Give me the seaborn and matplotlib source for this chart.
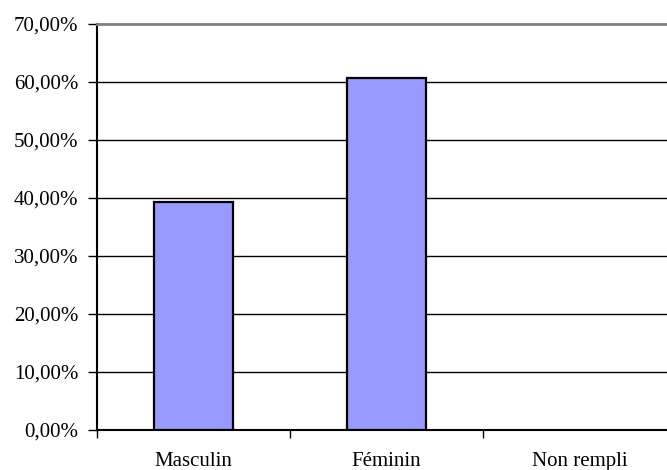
import matplotlib
matplotlib.use("Agg")
import matplotlib.pyplot as plt
import seaborn as sns
import pandas as pd
from matplotlib.ticker import FuncFormatter, FixedLocator

categories = ["Masculin", "Féminin", "Non rempli"]
values = [39.39, 60.61, 0.0]
yticks = [0, 10, 20, 30, 40, 50, 60, 70]

sns.set_theme(style="white")
plt.rcParams['font.family'] = ['Liberation Serif', 'DejaVu Serif']

df = pd.DataFrame({"cat": categories, "val": values})

fig = plt.figure(figsize=(6.67, 4.70), dpi=100)
ax = fig.add_axes([97/667, 40/470, 579/667, 406/470])

sns.barplot(data=df, x="cat", y="val", ax=ax, color="#9999FF",
            saturation=1, width=0.41, edgecolor="black", linewidth=1.6, zorder=3)
for p in ax.patches:
    if p.get_height() == 0:
        p.set_linewidth(0)

ax.set_ylim(0, 70)
ax.set_xlim(-0.5, 2.5)
ax.set_yticks(yticks)
ax.yaxis.set_major_formatter(FuncFormatter(lambda v, p: f"{v:.2f}".replace(".", ",") + "%"))
for y in yticks[1:-1]:
    ax.axhline(y, color="black", linewidth=1.0, zorder=1)

ax.set_xlabel("")
ax.set_ylabel("")
ax.xaxis.set_minor_locator(FixedLocator([-0.5, 0.5, 1.5, 2.5]))
ax.tick_params(axis="x", which="major", length=0, pad=16, labelsize=15, colors="black")
ax.tick_params(axis="x", which="minor", length=6, width=1, direction="out", color="black", bottom=True)
ax.tick_params(axis="y", which="major", length=6.5, width=1, direction="out", pad=7, labelsize=15,
               colors="black", left=True)

ax.spines["left"].set_color("black")
ax.spines["left"].set_linewidth(1.5)
ax.spines["bottom"].set_color("black")
ax.spines["bottom"].set_linewidth(1.5)
ax.spines["top"].set_color("#808080")
ax.spines["top"].set_linewidth(2)
ax.spines["right"].set_color("#808080")
for s in ax.spines.values():
    s.set_visible(True)

fig.savefig("out.png", dpi=100)
